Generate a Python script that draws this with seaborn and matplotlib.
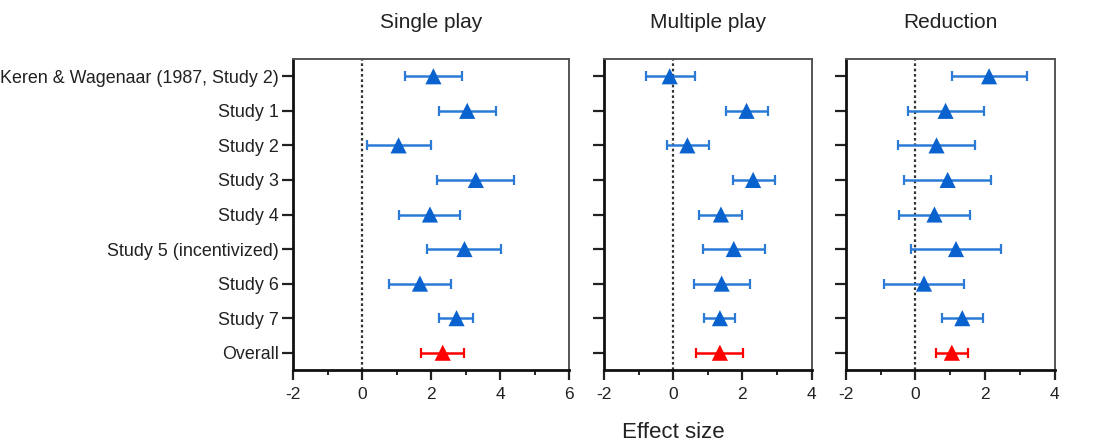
import matplotlib
matplotlib.use('Agg')
import matplotlib.pyplot as plt
from matplotlib.ticker import MultipleLocator
import numpy as np
import pandas as pd
import seaborn as sns

studies = ['Keren & Wagenaar (1987, Study 2)', 'Study 1', 'Study 2', 'Study 3', 'Study 4',
           'Study 5 (incentivized)', 'Study 6', 'Study 7', 'Overall']
panels = ['Single play', 'Multiple play', 'Reduction']

single_est = [2.07, 3.05, 1.06, 3.30, 1.97, 2.97, 1.68, 2.74, 2.34]
single_lo = [1.24, 2.22, 0.14, 2.18, 1.08, 1.87, 0.78, 2.22, 1.70]
single_hi = [2.91, 3.87, 1.99, 4.41, 2.83, 4.03, 2.59, 3.23, 2.97]

multi_est = [-0.10, 2.12, 0.41, 2.31, 1.38, 1.75, 1.40, 1.35, 1.35]
multi_lo = [-0.79, 1.54, -0.19, 1.72, 0.75, 0.87, 0.60, 0.90, 0.65]
multi_hi = [0.63, 2.73, 1.04, 2.94, 2.00, 2.65, 2.22, 1.78, 2.02]

red_est = [2.12, 0.87, 0.61, 0.93, 0.55, 1.17, 0.25, 1.35, 1.05]
red_lo = [1.05, -0.22, -0.49, -0.32, -0.47, -0.12, -0.90, 0.76, 0.59]
red_hi = [3.20, 1.98, 1.72, 2.18, 1.57, 2.46, 1.40, 1.95, 1.52]

xlims = [(-2, 6), (-2, 4), (-2, 4)]

sns.set_theme(style='ticks')
plt.rcParams['font.family'] = ['Liberation Sans', 'DejaVu Sans']
plt.rcParams['axes.unicode_minus'] = False

BLUE = '#0a62cf'
BLUE_BAR = '#2b7bd6'
RED = '#ff0000'

fig = plt.figure(figsize=(11.11, 4.44), dpi=100)
boxes = [(293, 276), (604, 207.6), (845.7, 208.8)]
top_px, bot_px = 59, 370

data = [(single_est, single_lo, single_hi), (multi_est, multi_lo, multi_hi), (red_est, red_lo, red_hi)]

for k, (left, width) in enumerate(boxes):
    ax = fig.add_axes([left / 1111, 1 - bot_px / 444, width / 1111, (bot_px - top_px) / 444])
    est, lo, hi = data[k]
    df = pd.DataFrame({'study': studies, 'pos': np.arange(len(studies)),
                       'est': est, 'lo': lo, 'hi': hi})
    df['kind'] = ['Overall' if s == 'Overall' else 'Study' for s in studies]

    ax.axvline(0, color='#333333', linestyle=(0, (1.2, 1.2)), linewidth=1.6, zorder=1)
    for kind, bar_col in [('Study', BLUE_BAR), ('Overall', RED)]:
        sub = df[df['kind'] == kind]
        ax.errorbar(sub['est'], sub['pos'],
                    xerr=[sub['est'] - sub['lo'], sub['hi'] - sub['est']],
                    fmt='none', ecolor=bar_col, elinewidth=1.8, capsize=3.5,
                    capthick=1.6, zorder=2)
    sns.scatterplot(data=df, x='est', y='pos', hue='kind',
                    palette={'Study': BLUE, 'Overall': RED}, marker='^', s=135,
                    linewidth=0, legend=False, ax=ax, zorder=3)

    ax.set_xlim(*xlims[k])
    ax.set_ylim(len(studies) - 0.5, -0.5)
    ax.set_yticks(np.arange(len(studies)))
    if k == 0:
        ax.set_yticklabels(studies, fontsize=12.9, color='#222222')
    else:
        ax.set_yticklabels([])
    ax.xaxis.set_major_locator(MultipleLocator(2))
    ax.xaxis.set_minor_locator(MultipleLocator(1))
    ax.tick_params(axis='x', which='major', length=7, width=1.6, labelsize=12.5,
                   pad=5, colors='#222222')
    ax.tick_params(axis='x', which='minor', length=3.5, width=1.4, color='#222222')
    ax.tick_params(axis='y', length=8, width=1.6, pad=2, colors='#222222')
    ax.set_xlabel('')
    ax.set_ylabel('')
    for side in ['bottom', 'left']:
        ax.spines[side].set_linewidth(2.0)
        ax.spines[side].set_color('#111111')
    for side in ['top', 'right']:
        ax.spines[side].set_visible(True)
        ax.spines[side].set_linewidth(1.4)
        ax.spines[side].set_color('#555555')

    fig.text((left + width / 2) / 1111, 1 - 22 / 444, panels[k], fontsize=15,
             ha='center', va='center', color='#222222')

fig.text(673 / 1111, 1 - 432 / 444, 'Effect size', fontsize=16, ha='center',
         va='center', color='#222222')

fig.savefig('out.png', dpi=100)
